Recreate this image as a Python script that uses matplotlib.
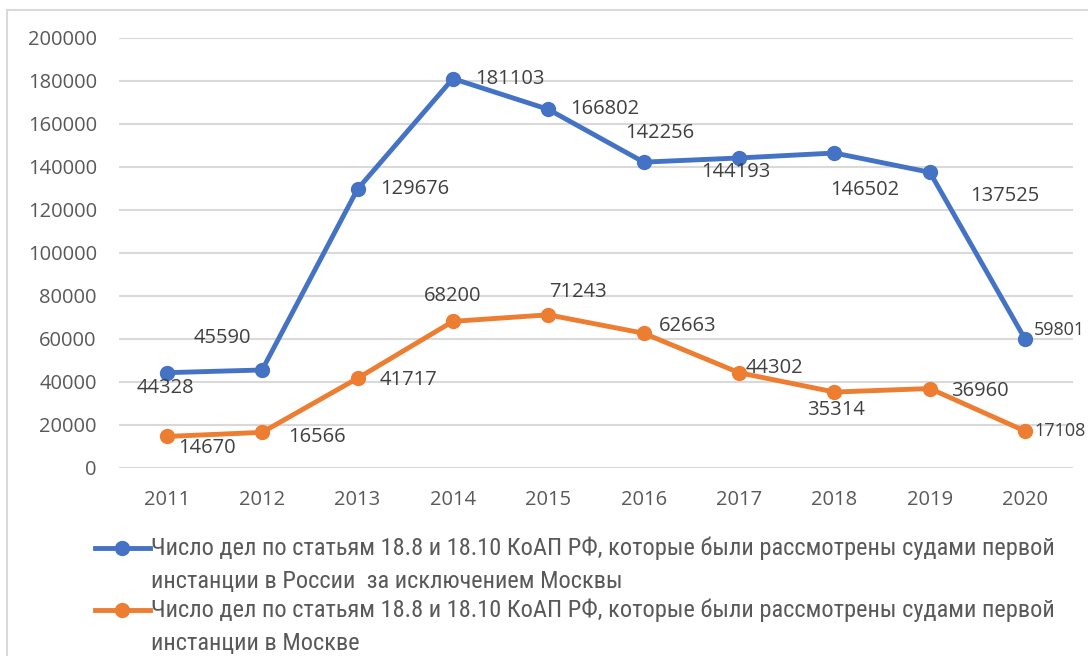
import matplotlib
matplotlib.use("Agg")
import matplotlib.pyplot as plt
from matplotlib.lines import Line2D
from matplotlib.patches import Rectangle

years = ['2011', '2012', '2013', '2014', '2015', '2016', '2017', '2018', '2019', '2020']
russia_wo_moscow = [44328, 45590, 129676, 181103, 166802, 142256, 144193, 146502, 137525, 59801]
moscow = [14670, 16566, 41717, 68200, 71243, 62663, 44302, 35314, 36960, 17108]
legend_labels = [
    'Число дел по статьям 18.8 и 18.10 КоАП РФ, которые были рассмотрены судами первой\nинстанции в России  за исключением Москвы',
    'Число дел по статьям 18.8 и 18.10 КоАП РФ, которые были рассмотрены судами первой\nинстанции в Москве',
]

# label offsets (pixels) relative to the point
blue_off = [(-1, -15), (-40, 32), (57, 0), (57, 0), (56, 0), (16, 29), (-3, -14), (30, -37), (75, -24), (9, 9)]
orange_off = [(40, -12), (55, -5), (51, -2), (0, 25), (30, 23), (44, 7), (35, 5), (2, -18), (50, -2), (9, 0)]

BLUE = '#4472C4'
ORANGE = '#ED7D31'
TICK = '#595959'
LABEL = '#404040'

plt.rcParams['font.family'] = ['Open Sans', 'DejaVu Sans']

fig = plt.figure(figsize=(10.88, 6.56), dpi=100)
ax = fig.add_axes([0.1094, 0.2866, 0.8768, 0.6555])

x = list(range(len(years)))
ax.plot(x, russia_wo_moscow, color=BLUE, lw=3.5, marker='o', ms=10, solid_joinstyle='round')
ax.plot(x, moscow, color=ORANGE, lw=3.5, marker='o', ms=10, solid_joinstyle='round')

n = len(years)
for series, offs in [(russia_wo_moscow, blue_off), (moscow, orange_off)]:
    for i, (v, off) in enumerate(zip(series, offs)):
        last = i == n - 1
        # last point sits at the right edge: left-aligned and a bit smaller so it fits
        ax.annotate(str(v), (i, v), xytext=off, textcoords='offset pixels',
                    ha='left' if last else 'center', va='center',
                    fontsize=13 if last else 14.5, color=LABEL, annotation_clip=False)

ax.set_xlim(-0.5, n - 0.5)
ax.set_ylim(0, 200000)
ax.set_yticks(range(0, 200001, 20000))
ax.set_yticklabels([str(v) for v in range(0, 200001, 20000)])
ax.set_xticks(x)
ax.set_xticklabels(years)
ax.tick_params(axis='both', length=0, labelsize=14.5, labelcolor=TICK)
ax.tick_params(axis='y', pad=16)
ax.tick_params(axis='x', pad=16)
ax.grid(axis='y', color='#d9d9d9', lw=1.5)
ax.set_axisbelow(True)
for s in ax.spines.values():
    s.set_visible(False)

# chart border
fig.add_artist(Rectangle((7 / 1088, -0.1), 1.2, 1 - 10 / 656 + 0.1, transform=fig.transFigure,
                         fill=False, edgecolor='#d9d9d9', lw=1.5))

# legend drawn by hand (wrapped labels, handle aligned with first line)
leg_texts = []
for i, (lab, col) in enumerate(zip(legend_labels, [BLUE, ORANGE])):
    y = 1 - (548 + 62 * i) / 656
    fig.add_artist(Line2D([95 / 1088, 150 / 1088], [y, y], transform=fig.transFigure, color=col, lw=3.5))
    fig.add_artist(Line2D([122 / 1088], [y], transform=fig.transFigure, color=col, marker='o', ms=10))
    t = fig.text(151 / 1088, y + 11 / 656, lab, ha='left', va='top', fontsize=16, color=TICK,
                 linespacing=1.5, family=['Roboto Condensed', 'Roboto', 'DejaVu Sans'])
    leg_texts.append(t)

# the original legend font is narrow: shrink so the first line spans ~905 px
fig.canvas.draw()
r = fig.canvas.get_renderer()
w = leg_texts[0].get_window_extent(r).width
for t in leg_texts:
    t.set_fontsize(16 * 905 / w)

fig.savefig('out.png', dpi=100)
